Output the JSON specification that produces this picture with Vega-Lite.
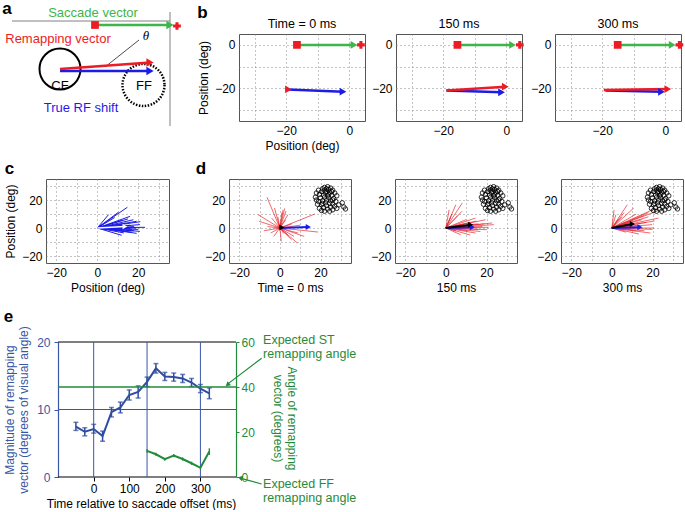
{
"$schema": "https://vega.github.io/schema/vega-lite/v6.json",
"padding": {"left": 2, "top": 0, "right": 0, "bottom": 1},
"config": {
  "font": "Liberation Sans",
  "view": {"stroke": "#555"},
  "axis": {"labelFontSize": 12, "titleFontSize": 12, "titleFontWeight": "normal", "labelColor": "#000", "titleColor": "#000", "domain": false, "ticks": false, "gridColor": "#888", "gridDash": [1, 3], "gridWidth": 1, "labelPadding": 4, "titlePadding": 4, "labelFont": "Liberation Sans", "titleFont": "Liberation Sans"},
  "title": {"fontSize": 12.5, "fontWeight": "normal", "offset": 0, "font": "Liberation Sans"},
  "text": {"font": "Liberation Sans"}
},
"datasets": {
  "aseg": [
    {"v": "frame", "x": 12, "y": 21, "x0": 170, "y0": 21},
    {"v": "frame", "x": 170, "y": 12, "x0": 170, "y0": 126},
    {"v": "leader", "x": 105, "y": 67, "x0": 139, "y0": 40},
    {"v": "saccade", "x": 170, "y": 25, "x0": 95, "y0": 25},
    {"v": "true", "x": 150, "y": 71, "x0": 60, "y0": 71},
    {"v": "remap", "x": 150, "y": 62.5, "x0": 60, "y0": 69}
  ],
  "acirc": [{"k": "CF", "x": 60, "y": 69}, {"k": "FF", "x": 143.5, "y": 85}],
  "atext": [
    {"s": "Saccade vector", "v": "saccade", "x": 93, "y": 13},
    {"s": "Remapping vector", "v": "remap", "x": 58, "y": 39},
    {"s": "CF", "v": "mean", "x": 60, "y": 86},
    {"s": "FF", "v": "mean", "x": 144, "y": 86},
    {"s": "True RF shift", "v": "true", "x": 81, "y": 108}
  ],
  "amark": [{"k": "start", "x": 95, "y": 25}, {"k": "target", "x": 177, "y": 26}],
  "bvec": [
    {"t": 0, "v": "saccade", "x0": -16.6, "y0": 0, "x": 1.5, "y": 0},
    {"t": 0, "v": "true", "x0": -19.5, "y0": -20.5, "x": -2, "y": -21.5},
    {"t": 0, "v": "remap", "x0": -20.3, "y0": -20.5, "x": -19.3, "y": -20.5},
    {"t": 150, "v": "saccade", "x0": -15.5, "y0": 0, "x": 2, "y": 0},
    {"t": 150, "v": "true", "x0": -19, "y0": -21, "x": -1.5, "y": -21.8},
    {"t": 150, "v": "remap", "x0": -19, "y0": -21, "x": -0.3, "y": -19.2},
    {"t": 300, "v": "saccade", "x0": -15.1, "y0": 0, "x": 2.2, "y": 0},
    {"t": 300, "v": "true", "x0": -19, "y0": -21, "x": -1.2, "y": -21.6},
    {"t": 300, "v": "remap", "x0": -19.5, "y0": -20.8, "x": 0.8, "y": -20.3}
  ],
  "bmark": [
    {"t": 0, "k": "start", "x": -16.6, "y": 0}, {"t": 0, "k": "target", "x": 3.7, "y": 0},
    {"t": 150, "k": "start", "x": -15.5, "y": 0}, {"t": 150, "k": "target", "x": 4.3, "y": 0},
    {"t": 300, "k": "start", "x": -15.1, "y": 0}, {"t": 300, "k": "target", "x": 4.5, "y": 0}
  ],
  "cvec": [
    {"x": 14.7, "y": 14.8}, {"x": 10.3, "y": 11.2}, {"x": 5.5, "y": 9.5}, {"x": 16, "y": 8.3}, {"x": 17.6, "y": 5.9},
    {"x": 19.2, "y": 4.8}, {"x": 20.8, "y": 2.4}, {"x": 23.3, "y": 0.5}, {"x": 20.8, "y": -2.4}, {"x": 19.2, "y": -3.8},
    {"x": 11.9, "y": -5.2}, {"x": 16.8, "y": -2.9}, {"x": 18, "y": 1}, {"x": 16, "y": 2}, {"x": 14, "y": 3.5},
    {"x": 13, "y": -2}, {"x": 17, "y": -1}, {"x": 19, "y": 0}, {"x": 21, "y": 4.5}, {"x": 12, "y": 5.5},
    {"x": 8.5, "y": 7.5}, {"x": 15, "y": 6.5}, {"x": 20, "y": -1}, {"x": 13, "y": -3.5}, {"x": 18, "y": -2},
    {"x": 14, "y": 0.5}, {"x": 16, "y": -0.5}, {"x": 12.5, "y": 2}
  ],
  "cmean": [{"x": 13.5, "y": 1}],
  "dvec": [
    {"t": 0, "x": -6.3, "y": 21.9}, {"t": 0, "x": -10.7, "y": 9.5}, {"t": 0, "x": 17.2, "y": 10}, {"t": 0, "x": 18.8, "y": -2.9},
    {"t": 0, "x": 8.6, "y": -10.7}, {"t": 0, "x": -10.2, "y": 4.8}, {"t": 0, "x": -4.5, "y": -3.6}, {"t": 0, "x": 0.7, "y": -9.5},
    {"t": 0, "x": 1.6, "y": 13}, {"t": 0, "x": 2.4, "y": 14}, {"t": 0, "x": -2.6, "y": 14.3}, {"t": 0, "x": 9, "y": -3.6},
    {"t": 0, "x": 4, "y": 9.5}, {"t": 0, "x": -7.9, "y": -2}, {"t": 0, "x": 5.7, "y": -8.3}, {"t": 0, "x": 3, "y": 6},
    {"t": 0, "x": -4, "y": 7}, {"t": 0, "x": 6, "y": 3}, {"t": 0, "x": -3, "y": -6}, {"t": 0, "x": 2, "y": -4},
    {"t": 0, "x": 10, "y": 2}, {"t": 0, "x": -6, "y": 1}, {"t": 0, "x": 7, "y": -6}, {"t": 0, "x": 1, "y": 11},
    {"t": 0, "x": -1, "y": 8}, {"t": 0, "x": 4, "y": -5}, {"t": 0, "x": 3, "y": 12}, {"t": 0, "x": 12, "y": -6},
    {"t": 150, "x": 8.1, "y": 17.9}, {"t": 150, "x": 4.9, "y": 16.6}, {"t": 150, "x": 1.6, "y": 13}, {"t": 150, "x": 14.6, "y": 7.1},
    {"t": 150, "x": 19.5, "y": 5.9}, {"t": 150, "x": 22.8, "y": 3.6}, {"t": 150, "x": 23.6, "y": 2.4}, {"t": 150, "x": 20.3, "y": -1.2},
    {"t": 150, "x": 14.6, "y": -3.6}, {"t": 150, "x": 7.3, "y": -4.8}, {"t": 150, "x": 12, "y": 4}, {"t": 150, "x": 16, "y": 3},
    {"t": 150, "x": 18, "y": 1}, {"t": 150, "x": 10, "y": 6}, {"t": 150, "x": 6, "y": 9}, {"t": 150, "x": 3, "y": 10},
    {"t": 150, "x": 11, "y": -2}, {"t": 150, "x": 17, "y": -2.5}, {"t": 150, "x": 21, "y": 0.5}, {"t": 150, "x": 13, "y": 1},
    {"t": 150, "x": 9, "y": 2.5}, {"t": 150, "x": 15, "y": 5}, {"t": 150, "x": 5, "y": -2}, {"t": 150, "x": 19, "y": 3},
    {"t": 150, "x": 8, "y": 12}, {"t": 150, "x": 2.5, "y": 8}, {"t": 150, "x": 12, "y": -5}, {"t": 150, "x": 16, "y": -1},
    {"t": 300, "x": 7.6, "y": 16.6}, {"t": 300, "x": 10.8, "y": 14.3}, {"t": 300, "x": 23, "y": 12.4}, {"t": 300, "x": 23, "y": 7.1},
    {"t": 300, "x": 19.8, "y": 2.4}, {"t": 300, "x": 20.6, "y": 0}, {"t": 300, "x": 19, "y": -3.6}, {"t": 300, "x": 13.3, "y": -4.3},
    {"t": 300, "x": 2, "y": 9.5}, {"t": 300, "x": 1.1, "y": 13}, {"t": 300, "x": 5, "y": 8}, {"t": 300, "x": 12, "y": 10},
    {"t": 300, "x": 16, "y": 9}, {"t": 300, "x": 18, "y": 11}, {"t": 300, "x": 20, "y": 13}, {"t": 300, "x": 15, "y": 6},
    {"t": 300, "x": 17, "y": 4}, {"t": 300, "x": 14, "y": 2}, {"t": 300, "x": 10, "y": 5}, {"t": 300, "x": 8, "y": 3},
    {"t": 300, "x": 12, "y": -2}, {"t": 300, "x": 16, "y": -2}, {"t": 300, "x": 7, "y": -3}, {"t": 300, "x": 20, "y": -1},
    {"t": 300, "x": 3, "y": 6}, {"t": 300, "x": 21, "y": 5}, {"t": 300, "x": 6, "y": 11}, {"t": 300, "x": 18, "y": 8}
  ],
  "dmean": [
    {"t": 0, "v": "true", "x": 14, "y": 0.7}, {"t": 0, "v": "mean", "x": 1, "y": 0.3},
    {"t": 150, "v": "true", "x": 13, "y": 0.5}, {"t": 150, "v": "mean", "x": 12.2, "y": 2.4},
    {"t": 300, "v": "true", "x": 13.8, "y": 0.5}, {"t": 300, "v": "mean", "x": 10.1, "y": 2.9}
  ],
  "rf": [
    {"x": 22, "y": 29}, {"x": 23.5, "y": 29.5}, {"x": 25, "y": 28.5}, {"x": 21, "y": 28}, {"x": 24, "y": 27.5},
    {"x": 26, "y": 27}, {"x": 19, "y": 27}, {"x": 20.5, "y": 26}, {"x": 23, "y": 26}, {"x": 22.5, "y": 25},
    {"x": 24.5, "y": 25.5}, {"x": 27, "y": 25}, {"x": 18, "y": 25}, {"x": 19.5, "y": 24}, {"x": 21.5, "y": 23.5},
    {"x": 23.5, "y": 23}, {"x": 25.5, "y": 23.5}, {"x": 28, "y": 23}, {"x": 22, "y": 22}, {"x": 24, "y": 21.5},
    {"x": 20, "y": 21.5}, {"x": 17.5, "y": 22}, {"x": 26.5, "y": 21}, {"x": 23, "y": 20}, {"x": 21, "y": 19.5},
    {"x": 25, "y": 19.5}, {"x": 19, "y": 19}, {"x": 27.5, "y": 19}, {"x": 22.5, "y": 18}, {"x": 24.5, "y": 17.5},
    {"x": 18.5, "y": 17}, {"x": 20.5, "y": 16.5}, {"x": 26, "y": 17}, {"x": 23, "y": 16}, {"x": 21.5, "y": 14.5},
    {"x": 25, "y": 15}, {"x": 27, "y": 15.5}, {"x": 19.5, "y": 14}, {"x": 23.5, "y": 13.5}, {"x": 26, "y": 13},
    {"x": 22, "y": 12}, {"x": 24.5, "y": 12}, {"x": 20.5, "y": 12.5}, {"x": 28, "y": 14}, {"x": 31.5, "y": 15},
    {"x": 32.3, "y": 13.6}, {"x": 30.7, "y": 18}, {"x": 29, "y": 16.5}, {"x": 18, "y": 20}, {"x": 22, "y": 27},
    {"x": 24, "y": 24}, {"x": 21, "y": 17.5}, {"x": 25.5, "y": 26}, {"x": 23, "y": 28}, {"x": 26, "y": 20}
  ],
  "emag": [
    {"t": -50, "m": 7.46, "lo": 6.9, "hi": 8.1}, {"t": -25, "m": 6.7, "lo": 6.1, "hi": 7.3}, {"t": 0, "m": 7.1, "lo": 6.5, "hi": 7.8},
    {"t": 25, "m": 6.07, "lo": 5.3, "hi": 6.8}, {"t": 50, "m": 9.6, "lo": 8.9, "hi": 10.3}, {"t": 75, "m": 10.3, "lo": 9.5, "hi": 11.1},
    {"t": 100, "m": 12.15, "lo": 11.4, "hi": 12.9}, {"t": 125, "m": 12.6, "lo": 11.7, "hi": 13.5}, {"t": 150, "m": 14.1, "lo": 13.4, "hi": 14.8},
    {"t": 175, "m": 16.1, "lo": 15.4, "hi": 16.8}, {"t": 200, "m": 14.9, "lo": 14.3, "hi": 15.5}, {"t": 225, "m": 14.8, "lo": 14.2, "hi": 15.4},
    {"t": 250, "m": 14.6, "lo": 14.0, "hi": 15.2}, {"t": 275, "m": 14.0, "lo": 13.4, "hi": 14.6}, {"t": 300, "m": 13.1, "lo": 12.5, "hi": 13.7},
    {"t": 325, "m": 12.4, "lo": 11.6, "hi": 13.2}
  ],
  "eang": [
    {"t": 150, "a": 11.6, "lo": 10.8, "hi": 12.4}, {"t": 175, "a": 10.1, "lo": 9.4, "hi": 10.8}, {"t": 200, "a": 7.9, "lo": 7.2, "hi": 8.6},
    {"t": 225, "a": 9.5, "lo": 8.8, "hi": 10.2}, {"t": 250, "a": 8.0, "lo": 7.3, "hi": 8.7}, {"t": 275, "a": 6.1, "lo": 5.4, "hi": 6.8},
    {"t": 300, "a": 4.1, "lo": 3.4, "hi": 4.8}, {"t": 325, "a": 11.3, "lo": 9.8, "hi": 12.8}
  ]
},
"concat": [
  {
    "concat": [
      {
        "concat": [
          {
            "width": 141, "height": 87,
            "view": {"stroke": null},
            "encoding": {
              "x": {"field": "x", "type": "quantitative", "scale": {"domain": [46, 187], "nice": false, "zero": false}, "axis": null},
              "y": {"field": "y", "type": "quantitative", "scale": {"domain": [34, 121], "nice": false, "zero": false, "reverse": true}, "axis": null}
            },
            "layer": [
              {"data": {"name": "aseg"}, "transform": [{"filter": "datum.v == 'frame'"}], "mark": {"type": "rule", "color": "#808080", "strokeWidth": 1}, "encoding": {"x2": {"field": "x0"}, "y2": {"field": "y0"}}},
              {"data": {"name": "aseg"}, "transform": [{"filter": "datum.v == 'leader'"}], "mark": {"type": "rule", "color": "#000", "strokeWidth": 0.7}, "encoding": {"x2": {"field": "x0"}, "y2": {"field": "y0"}}},
              {"data": {"name": "acirc"}, "transform": [{"filter": "datum.k == 'CF'"}], "mark": {"type": "point", "shape": "circle", "filled": false, "color": "#000", "strokeWidth": 2, "size": 1681, "opacity": 1}},
              {"data": {"name": "acirc"}, "transform": [{"filter": "datum.k == 'FF'"}], "mark": {"type": "point", "shape": "circle", "filled": false, "color": "#000", "strokeWidth": 2.5, "strokeDash": [1.5, 1.5], "size": 1764, "opacity": 1}},
              {"data": {"name": "aseg"}, "transform": [{"filter": "datum.v != 'frame' && datum.v != 'leader'"}], "mark": {"type": "rule", "strokeWidth": 2.5}, "encoding": {"x2": {"field": "x0"}, "y2": {"field": "y0"}, "color": {"field": "v", "type": "nominal", "scale": {"domain": ["saccade", "remap", "true", "mean", "white"], "range": ["#3db54a", "#ed1c24", "#1c1ce6", "#000000", "#ffffff"]}, "legend": null}}},
              {"data": {"name": "aseg"}, "transform": [{"filter": "datum.v != 'frame' && datum.v != 'leader'"}], "mark": {"type": "point", "shape": "triangle-right", "filled": true, "size": 70, "opacity": 1}, "encoding": {"color": {"field": "v", "type": "nominal", "scale": {"domain": ["saccade", "remap", "true", "mean", "white"], "range": ["#3db54a", "#ed1c24", "#1c1ce6", "#000000", "#ffffff"]}, "legend": null}}},
              {"data": {"name": "amark"}, "mark": {"type": "point", "filled": true, "color": "#ed1c24", "opacity": 1, "size": 60}, "encoding": {"shape": {"field": "k", "type": "nominal", "scale": {"domain": ["start", "target"], "range": ["square", "cross"]}, "legend": null}}},
              {"data": {"name": "atext"}, "mark": {"type": "text", "fontSize": 13, "align": "center", "baseline": "middle"}, "encoding": {"text": {"field": "s"}, "color": {"field": "v", "type": "nominal", "scale": {"domain": ["saccade", "remap", "true", "mean", "white"], "range": ["#3db54a", "#ed1c24", "#1c1ce6", "#000000", "#ffffff"]}, "legend": null}}},
              {"data": {"values": [{"s": "θ", "x": 146, "y": 36}]}, "mark": {"type": "text", "font": "Liberation Serif", "fontStyle": "italic", "fontSize": 13, "baseline": "middle"}, "encoding": {"text": {"field": "s"}}},
              {"data": {"values": [{"s": "a", "x": 7, "y": 9}]}, "mark": {"type": "text", "fontWeight": "bold", "fontSize": 17, "baseline": "middle", "align": "center"}, "encoding": {"text": {"field": "s"}}}
            ]
          },
          {
            "title": {"text": "b", "anchor": "start", "fontSize": 17, "fontWeight": "bold", "offset": -5},
            "concat": [
              {
                "width": 126, "height": 87,
                "title": {"text": "Time = 0 ms"},
                "encoding": {
                  "x": {"field": "x", "type": "quantitative", "scale": {"domain": [-35, 5], "nice": false, "zero": false}, "axis": {"values": [-30, -20, -10, 0], "labelExpr": "datum.value % 20 === 0 ? datum.label : ''", "title": "Position (deg)"}},
                  "y": {"field": "y", "type": "quantitative", "scale": {"domain": [-35, 5], "nice": false, "zero": false}, "axis": {"values": [-30, -20, -10, 0], "labelExpr": "datum.value % 20 === 0 ? datum.label : ''", "title": "Position (deg)"}}
                },
                "layer": [
                  {"data": {"name": "bvec"}, "transform": [{"filter": "datum.t == 0"}], "mark": {"type": "rule", "strokeWidth": 2.5}, "encoding": {"x2": {"field": "x0"}, "y2": {"field": "y0"}, "color": {"field": "v", "type": "nominal", "scale": {"domain": ["saccade", "remap", "true", "mean", "white"], "range": ["#3db54a", "#ed1c24", "#1c1ce6", "#000000", "#ffffff"]}, "legend": null}}},
                  {"data": {"name": "bvec"}, "transform": [{"filter": "datum.t == 0"}], "mark": {"type": "point", "shape": "triangle-right", "filled": true, "size": 60, "opacity": 1}, "encoding": {"color": {"field": "v", "type": "nominal", "scale": {"domain": ["saccade", "remap", "true", "mean", "white"], "range": ["#3db54a", "#ed1c24", "#1c1ce6", "#000000", "#ffffff"]}, "legend": null}}},
                  {"data": {"name": "bmark"}, "transform": [{"filter": "datum.t == 0"}], "mark": {"type": "point", "filled": true, "color": "#ed1c24", "opacity": 1, "size": 60}, "encoding": {"shape": {"field": "k", "type": "nominal", "scale": {"domain": ["start", "target"], "range": ["square", "cross"]}, "legend": null}}}
                ]
              },
              {
                "width": 126, "height": 87,
                "title": {"text": "150 ms"},
                "encoding": {
                  "x": {"field": "x", "type": "quantitative", "scale": {"domain": [-35, 5], "nice": false, "zero": false}, "axis": {"values": [-30, -20, -10, 0], "labelExpr": "datum.value % 20 === 0 ? datum.label : ''", "title": null}},
                  "y": {"field": "y", "type": "quantitative", "scale": {"domain": [-35, 5], "nice": false, "zero": false}, "axis": {"values": [-30, -20, -10, 0], "labelExpr": "datum.value % 20 === 0 ? datum.label : ''", "title": null}}
                },
                "layer": [
                  {"data": {"name": "bvec"}, "transform": [{"filter": "datum.t == 150"}], "mark": {"type": "rule", "strokeWidth": 2.5}, "encoding": {"x2": {"field": "x0"}, "y2": {"field": "y0"}, "color": {"field": "v", "type": "nominal", "scale": {"domain": ["saccade", "remap", "true", "mean", "white"], "range": ["#3db54a", "#ed1c24", "#1c1ce6", "#000000", "#ffffff"]}, "legend": null}}},
                  {"data": {"name": "bvec"}, "transform": [{"filter": "datum.t == 150"}], "mark": {"type": "point", "shape": "triangle-right", "filled": true, "size": 60, "opacity": 1}, "encoding": {"color": {"field": "v", "type": "nominal", "scale": {"domain": ["saccade", "remap", "true", "mean", "white"], "range": ["#3db54a", "#ed1c24", "#1c1ce6", "#000000", "#ffffff"]}, "legend": null}}},
                  {"data": {"name": "bmark"}, "transform": [{"filter": "datum.t == 150"}], "mark": {"type": "point", "filled": true, "color": "#ed1c24", "opacity": 1, "size": 60}, "encoding": {"shape": {"field": "k", "type": "nominal", "scale": {"domain": ["start", "target"], "range": ["square", "cross"]}, "legend": null}}}
                ]
              },
              {
                "width": 126, "height": 87,
                "title": {"text": "300 ms"},
                "encoding": {
                  "x": {"field": "x", "type": "quantitative", "scale": {"domain": [-35, 5], "nice": false, "zero": false}, "axis": {"values": [-30, -20, -10, 0], "labelExpr": "datum.value % 20 === 0 ? datum.label : ''", "title": null}},
                  "y": {"field": "y", "type": "quantitative", "scale": {"domain": [-35, 5], "nice": false, "zero": false}, "axis": {"values": [-30, -20, -10, 0], "labelExpr": "datum.value % 20 === 0 ? datum.label : ''", "title": null}}
                },
                "layer": [
                  {"data": {"name": "bvec"}, "transform": [{"filter": "datum.t == 300"}], "mark": {"type": "rule", "strokeWidth": 2.5}, "encoding": {"x2": {"field": "x0"}, "y2": {"field": "y0"}, "color": {"field": "v", "type": "nominal", "scale": {"domain": ["saccade", "remap", "true", "mean", "white"], "range": ["#3db54a", "#ed1c24", "#1c1ce6", "#000000", "#ffffff"]}, "legend": null}}},
                  {"data": {"name": "bvec"}, "transform": [{"filter": "datum.t == 300"}], "mark": {"type": "point", "shape": "triangle-right", "filled": true, "size": 60, "opacity": 1}, "encoding": {"color": {"field": "v", "type": "nominal", "scale": {"domain": ["saccade", "remap", "true", "mean", "white"], "range": ["#3db54a", "#ed1c24", "#1c1ce6", "#000000", "#ffffff"]}, "legend": null}}},
                  {"data": {"name": "bmark"}, "transform": [{"filter": "datum.t == 300"}], "mark": {"type": "point", "filled": true, "color": "#ed1c24", "opacity": 1, "size": 60}, "encoding": {"shape": {"field": "k", "type": "nominal", "scale": {"domain": ["start", "target"], "range": ["square", "cross"]}, "legend": null}}}
                ]
              }
            ],
            "columns": 3, "align": "each", "spacing": 5
          }
        ],
        "columns": 2, "align": "each", "spacing": 10
      },
      {
        "concat": [
          {
            "width": 123, "height": 84,
            "title": {"text": "c", "anchor": "start", "fontSize": 17, "fontWeight": "bold", "offset": 1},
            "encoding": {
              "x": {"field": "x", "type": "quantitative", "scale": {"domain": [-25, 35], "nice": false, "zero": false}, "axis": {"values": [-20, -10, 0, 10, 20, 30], "labelExpr": "datum.value % 20 === 0 ? datum.label : ''", "title": "Position (deg)"}},
              "y": {"field": "y", "type": "quantitative", "scale": {"domain": [-25, 35], "nice": false, "zero": false}, "axis": {"values": [-20, -10, 0, 10, 20, 30], "labelExpr": "datum.value % 20 === 0 ? datum.label : ''", "title": "Position (deg)"}}
            },
            "layer": [
              {"data": {"name": "cvec"}, "mark": {"type": "rule", "color": "#1c1ce6", "strokeWidth": 1}, "encoding": {"x2": {"datum": 0}, "y2": {"datum": 0}}},
              {"data": {"name": "cmean"}, "mark": {"type": "rule", "color": "#ffffff", "strokeWidth": 1.5}, "encoding": {"x2": {"datum": 0}, "y2": {"datum": 0}}},
              {"data": {"name": "cmean"}, "mark": {"type": "point", "shape": "triangle-right", "filled": true, "color": "#ffffff", "size": 30, "opacity": 1}}
            ]
          },
          {
            "concat": [
              {
                "width": 122, "height": 84,
                "title": {"text": "d", "anchor": "start", "fontSize": 17, "fontWeight": "bold", "offset": 1, "dx": -9},
                "encoding": {
                  "x": {"field": "x", "type": "quantitative", "scale": {"domain": [-25, 35], "nice": false, "zero": false}, "axis": {"values": [-20, -10, 0, 10, 20, 30], "labelExpr": "datum.value % 20 === 0 ? datum.label : ''", "title": "Time = 0 ms"}},
                  "y": {"field": "y", "type": "quantitative", "scale": {"domain": [-25, 35], "nice": false, "zero": false}, "axis": {"values": [-20, -10, 0, 10, 20, 30], "labelExpr": "datum.value % 20 === 0 ? datum.label : ''", "title": null}}
                },
                "layer": [
                  {"data": {"name": "dvec"}, "transform": [{"filter": "datum.t == 0"}], "mark": {"type": "rule", "color": "#e8202a", "strokeWidth": 0.8, "opacity": 0.85}, "encoding": {"x2": {"datum": 0}, "y2": {"datum": 0}}},
                  {"data": {"name": "rf"}, "mark": {"type": "point", "shape": "circle", "color": "#000", "size": 20, "strokeWidth": 0.8, "filled": false, "opacity": 1}},
                  {"data": {"name": "dmean"}, "transform": [{"filter": "datum.t == 0"}], "mark": {"type": "rule", "strokeWidth": 2}, "encoding": {"x2": {"datum": 0}, "y2": {"datum": 0}, "color": {"field": "v", "type": "nominal", "scale": {"domain": ["saccade", "remap", "true", "mean", "white"], "range": ["#3db54a", "#ed1c24", "#1c1ce6", "#000000", "#ffffff"]}, "legend": null}}},
                  {"data": {"name": "dmean"}, "transform": [{"filter": "datum.t == 0"}], "mark": {"type": "point", "shape": "triangle-right", "filled": true, "size": 35, "opacity": 1}, "encoding": {"color": {"field": "v", "type": "nominal", "scale": {"domain": ["saccade", "remap", "true", "mean", "white"], "range": ["#3db54a", "#ed1c24", "#1c1ce6", "#000000", "#ffffff"]}, "legend": null}}}
                ]
              },
              {
                "width": 122, "height": 84,
                "encoding": {
                  "x": {"field": "x", "type": "quantitative", "scale": {"domain": [-25, 35], "nice": false, "zero": false}, "axis": {"values": [-20, -10, 0, 10, 20, 30], "labelExpr": "datum.value % 20 === 0 ? datum.label : ''", "title": "150 ms"}},
                  "y": {"field": "y", "type": "quantitative", "scale": {"domain": [-25, 35], "nice": false, "zero": false}, "axis": {"values": [-20, -10, 0, 10, 20, 30], "labelExpr": "datum.value % 20 === 0 ? datum.label : ''", "title": null}}
                },
                "layer": [
                  {"data": {"name": "dvec"}, "transform": [{"filter": "datum.t == 150"}], "mark": {"type": "rule", "color": "#e8202a", "strokeWidth": 0.8, "opacity": 0.85}, "encoding": {"x2": {"datum": 0}, "y2": {"datum": 0}}},
                  {"data": {"name": "rf"}, "mark": {"type": "point", "shape": "circle", "color": "#000", "size": 20, "strokeWidth": 0.8, "filled": false, "opacity": 1}},
                  {"data": {"name": "dmean"}, "transform": [{"filter": "datum.t == 150"}], "mark": {"type": "rule", "strokeWidth": 2}, "encoding": {"x2": {"datum": 0}, "y2": {"datum": 0}, "color": {"field": "v", "type": "nominal", "scale": {"domain": ["saccade", "remap", "true", "mean", "white"], "range": ["#3db54a", "#ed1c24", "#1c1ce6", "#000000", "#ffffff"]}, "legend": null}}},
                  {"data": {"name": "dmean"}, "transform": [{"filter": "datum.t == 150"}], "mark": {"type": "point", "shape": "triangle-right", "filled": true, "size": 35, "opacity": 1}, "encoding": {"color": {"field": "v", "type": "nominal", "scale": {"domain": ["saccade", "remap", "true", "mean", "white"], "range": ["#3db54a", "#ed1c24", "#1c1ce6", "#000000", "#ffffff"]}, "legend": null}}}
                ]
              },
              {
                "width": 122, "height": 84,
                "encoding": {
                  "x": {"field": "x", "type": "quantitative", "scale": {"domain": [-25, 35], "nice": false, "zero": false}, "axis": {"values": [-20, -10, 0, 10, 20, 30], "labelExpr": "datum.value % 20 === 0 ? datum.label : ''", "title": "300 ms"}},
                  "y": {"field": "y", "type": "quantitative", "scale": {"domain": [-25, 35], "nice": false, "zero": false}, "axis": {"values": [-20, -10, 0, 10, 20, 30], "labelExpr": "datum.value % 20 === 0 ? datum.label : ''", "title": null}}
                },
                "layer": [
                  {"data": {"name": "dvec"}, "transform": [{"filter": "datum.t == 300"}], "mark": {"type": "rule", "color": "#e8202a", "strokeWidth": 0.8, "opacity": 0.85}, "encoding": {"x2": {"datum": 0}, "y2": {"datum": 0}}},
                  {"data": {"name": "rf"}, "mark": {"type": "point", "shape": "circle", "color": "#000", "size": 20, "strokeWidth": 0.8, "filled": false, "opacity": 1}},
                  {"data": {"name": "dmean"}, "transform": [{"filter": "datum.t == 300"}], "mark": {"type": "rule", "strokeWidth": 2}, "encoding": {"x2": {"datum": 0}, "y2": {"datum": 0}, "color": {"field": "v", "type": "nominal", "scale": {"domain": ["saccade", "remap", "true", "mean", "white"], "range": ["#3db54a", "#ed1c24", "#1c1ce6", "#000000", "#ffffff"]}, "legend": null}}},
                  {"data": {"name": "dmean"}, "transform": [{"filter": "datum.t == 300"}], "mark": {"type": "point", "shape": "triangle-right", "filled": true, "size": 35, "opacity": 1}, "encoding": {"color": {"field": "v", "type": "nominal", "scale": {"domain": ["saccade", "remap", "true", "mean", "white"], "range": ["#3db54a", "#ed1c24", "#1c1ce6", "#000000", "#ffffff"]}, "legend": null}}}
                ]
              }
            ],
            "columns": 3, "align": "each", "spacing": 18
          }
        ],
        "columns": 2, "align": "each", "spacing": 25
      }
    ],
    "columns": 1, "align": "none", "spacing": 7
  },
  {
    "width": 190, "height": 135,
    "view": {"stroke": null},
    "title": {"text": "e", "anchor": "start", "fontSize": 17, "fontWeight": "bold", "offset": 0},
    "layer": [
      {
        "encoding": {
          "x": {"field": "t", "type": "quantitative", "scale": {"domain": [-134, 400], "nice": false, "zero": false}, "axis": {"values": [0, 100, 200, 300], "title": "Time relative to saccade offset (ms)", "grid": false, "domain": false, "ticks": true, "tickColor": "#000", "tickSize": 4, "labelPadding": 2, "titlePadding": 4}},
          "y": {"field": "m", "type": "quantitative", "scale": {"domain": [0, 20], "nice": false, "zero": false}, "axis": {"values": [0, 10, 20], "offset": -12, "title": ["Magnitude of remapping", "vector (degrees of visual angle)"], "titleColor": "#3a56a8", "labelColor": "#3a56a8", "grid": false, "domain": true, "domainColor": "#3a56a8", "domainWidth": 1.2, "ticks": true, "tickColor": "#3a56a8", "tickSize": 4, "labelPadding": 4, "titlePadding": 6}}
        },
        "layer": [
          {"data": {"values": [{"t": -100, "t2": 400, "m": 0}, {"t": -100, "t2": 400, "m": 20}]}, "mark": {"type": "rule", "color": "#000", "strokeWidth": 1}, "encoding": {"x2": {"field": "t2"}}},
          {"data": {"values": [{"t": 0, "m": 0, "m2": 20}, {"t": 150, "m": 0, "m2": 20}, {"t": 300, "m": 0, "m2": 20}]}, "mark": {"type": "rule", "color": "#3a56a8", "strokeWidth": 1}, "encoding": {"y2": {"field": "m2"}}},
          {"data": {"values": [{"t": -100, "t2": 400, "m": 10}]}, "mark": {"type": "rule", "color": "#3a56a8", "strokeWidth": 1}, "encoding": {"x2": {"field": "t2"}}},
          {"data": {"name": "emag"}, "mark": {"type": "rule", "color": "#2f4da0", "strokeWidth": 1.5}, "encoding": {"y": {"field": "lo", "type": "quantitative", "scale": {"domain": [0, 20], "nice": false, "zero": false}}, "y2": {"field": "hi"}}},
          {"data": {"name": "emag"}, "mark": {"type": "tick", "orient": "horizontal", "color": "#2f4da0", "size": 5, "thickness": 1.5}, "encoding": {"y": {"field": "lo", "type": "quantitative", "scale": {"domain": [0, 20], "nice": false, "zero": false}}}},
          {"data": {"name": "emag"}, "mark": {"type": "tick", "orient": "horizontal", "color": "#2f4da0", "size": 5, "thickness": 1.5}, "encoding": {"y": {"field": "hi", "type": "quantitative", "scale": {"domain": [0, 20], "nice": false, "zero": false}}}},
          {"data": {"name": "emag"}, "mark": {"type": "line", "color": "#2f4da0", "strokeWidth": 2}}
        ]
      },
      {
        "layer": [
          {"data": {"values": [{"t": -100, "t2": 400, "a": 40}]}, "mark": {"type": "rule", "color": "#1f8b3b", "strokeWidth": 1.3}, "encoding": {"x": {"field": "t", "type": "quantitative", "scale": {"domain": [-134, 400], "nice": false, "zero": false}}, "x2": {"field": "t2"}, "y": {"field": "a", "type": "quantitative", "scale": {"domain": [0, 60], "nice": false, "zero": false}, "axis": {"orient": "right", "values": [0, 20, 40, 60], "title": ["Angle of remapping", "vector (degrees)"], "titleY": 76, "titleColor": "#1f8b3b", "labelColor": "#1f8b3b", "grid": false, "domain": true, "domainColor": "#1f8b3b", "domainWidth": 1.2, "ticks": true, "tickColor": "#1f8b3b", "tickSize": 3, "labelPadding": 2, "titlePadding": 16}}}},
          {"data": {"name": "eang"}, "mark": {"type": "rule", "color": "#1f8b3b", "strokeWidth": 1.3}, "encoding": {"x": {"field": "t", "type": "quantitative", "scale": {"domain": [-134, 400], "nice": false, "zero": false}}, "y": {"field": "lo", "type": "quantitative", "scale": {"domain": [0, 60], "nice": false, "zero": false}}, "y2": {"field": "hi"}}},
          {"data": {"name": "eang"}, "mark": {"type": "line", "color": "#1f8b3b", "strokeWidth": 2}, "encoding": {"x": {"field": "t", "type": "quantitative", "scale": {"domain": [-134, 400], "nice": false, "zero": false}}, "y": {"field": "a", "type": "quantitative", "scale": {"domain": [0, 60], "nice": false, "zero": false}}}},
          {"data": {"values": [{"s": "ST"}]}, "mark": {"type": "rule", "color": "#1f8b3b", "strokeWidth": 1.2}, "encoding": {"x": {"datum": 472}, "y": {"datum": 52.8}, "x2": {"datum": 378}, "y2": {"datum": 41.5}}},
          {"data": {"values": [{"s": "ST"}]}, "mark": {"type": "point", "shape": "triangle-left", "filled": true, "color": "#1f8b3b", "size": 30, "opacity": 1, "angle": -40}, "encoding": {"x": {"datum": 376}, "y": {"datum": 41}}},
          {"data": {"values": [{"s": "FF"}]}, "mark": {"type": "rule", "color": "#1f8b3b", "strokeWidth": 1.2}, "encoding": {"x": {"datum": 472}, "y": {"datum": -3.1}, "x2": {"datum": 414}, "y2": {"datum": -0.6}}},
          {"data": {"values": [{"s": "FF"}]}, "mark": {"type": "point", "shape": "triangle-left", "filled": true, "color": "#1f8b3b", "size": 30, "opacity": 1, "angle": 15}, "encoding": {"x": {"datum": 412}, "y": {"datum": -0.4}}},
          {"data": {"values": [{"s": "Expected ST"}]}, "mark": {"type": "text", "color": "#1f8b3b", "fontSize": 12.5, "align": "left", "baseline": "middle"}, "encoding": {"text": {"field": "s"}, "x": {"datum": 476}, "y": {"datum": 61}}},
          {"data": {"values": [{"s": "remapping angle"}]}, "mark": {"type": "text", "color": "#1f8b3b", "fontSize": 12.5, "align": "left", "baseline": "middle"}, "encoding": {"text": {"field": "s"}, "x": {"datum": 476}, "y": {"datum": 54.7}}},
          {"data": {"values": [{"s": "Expected FF"}]}, "mark": {"type": "text", "color": "#1f8b3b", "fontSize": 12.5, "align": "left", "baseline": "middle"}, "encoding": {"text": {"field": "s"}, "x": {"datum": 476}, "y": {"datum": -3.1}}},
          {"data": {"values": [{"s": "remapping angle"}]}, "mark": {"type": "text", "color": "#1f8b3b", "fontSize": 12.5, "align": "left", "baseline": "middle"}, "encoding": {"text": {"field": "s"}, "x": {"datum": 476}, "y": {"datum": -9.3}}}
        ]
      }
    ],
    "resolve": {"scale": {"y": "independent"}}
  }
],
"columns": 1, "align": "none", "spacing": 13
}
